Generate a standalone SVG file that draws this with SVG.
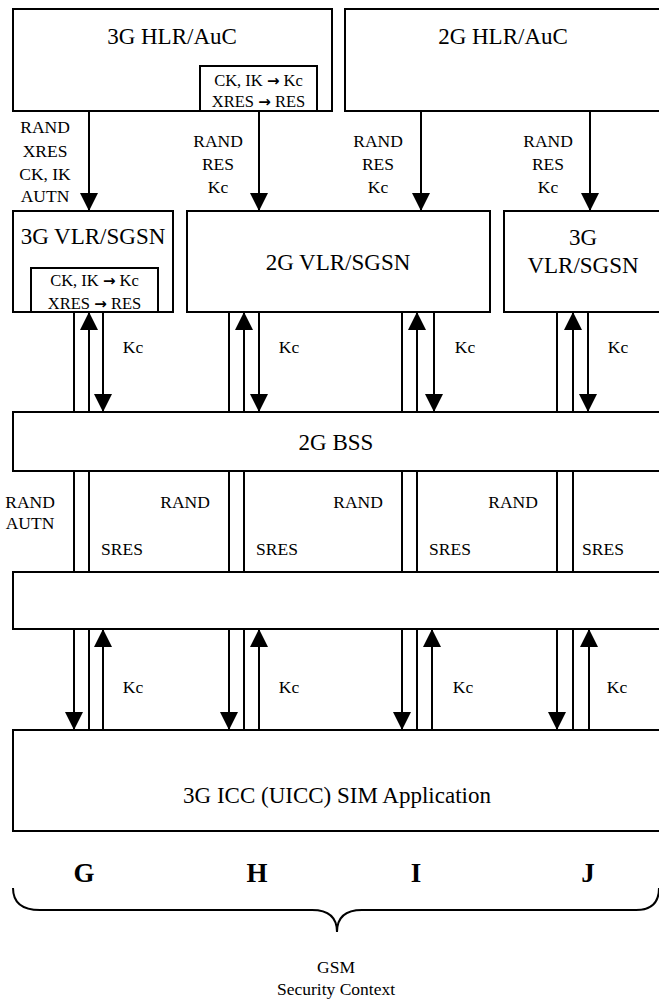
<svg xmlns="http://www.w3.org/2000/svg" width="659" height="999" viewBox="0 0 659 999">
<style>
rect{fill:#fff;stroke:#000;stroke-width:2}
line,path.c{stroke:#000;stroke-width:2;fill:none}
text{font-family:"Liberation Serif","Times New Roman",serif;fill:#000;text-anchor:middle}
.big{font-size:23px}
.sm{font-size:17.5px}
.in{font-size:16.5px}
.ar{font-family:"DejaVu Sans",sans-serif;font-weight:bold;font-size:15px}
.lt{font-size:27px;font-weight:bold}
</style>
<defs>
<marker id="ah" markerUnits="userSpaceOnUse" markerWidth="18" markerHeight="18" viewBox="0 0 18 18" refX="18" refY="9" orient="auto">
<path d="M0,0 L18,9 L0,18 z" fill="#000"/>
</marker>
</defs>
<rect x="0" y="0" width="659" height="999" style="fill:#fff;stroke:none"/>

<g id="hlr3g">
<rect x="13" y="9" width="319" height="102"/>
<text class="big" x="172" y="44">3G HLR/AuC</text>
<rect x="200" y="66" width="117" height="45"/>
<text class="in" x="258.5" y="86">CK, IK <tspan class="ar">→</tspan> Kc</text>
<text class="in" x="258.5" y="107">XRES <tspan class="ar">→</tspan> RES</text>
</g>
<g id="hlr2g">
<rect x="345" y="9" width="330" height="102"/>
<text class="big" x="503" y="44">2G HLR/AuC</text>
</g>
<g id="vlr3g-left">
<rect x="13" y="211" width="160" height="101"/>
<text class="big" x="93" y="244">3G VLR/SGSN</text>
<rect x="31" y="268" width="127" height="44"/>
<text class="in" x="94.5" y="286">CK, IK <tspan class="ar">→</tspan> Kc</text>
<text class="in" x="94.5" y="309">XRES <tspan class="ar">→</tspan> RES</text>
</g>
<g id="vlr2g">
<rect x="187" y="211" width="303" height="101"/>
<text class="big" x="338" y="270">2G VLR/SGSN</text>
</g>
<g id="vlr3g-right">
<rect x="504" y="211" width="180" height="101"/>
<text class="big" x="583" y="245">3G</text>
<text class="big" x="583" y="273">VLR/SGSN</text>
</g>
<g id="bss">
<rect x="13" y="412" width="670" height="59"/>
<text class="big" x="336" y="450">2G BSS</text>
</g>
<g id="blank">
<rect x="13" y="572" width="670" height="57"/>
</g>
<g id="sim">
<rect x="13" y="730" width="670" height="101"/>
<text class="big" x="337" y="803">3G ICC (UICC) SIM Application</text>
</g>

<g id="connectors">
<line x1="89" y1="111" x2="89" y2="211" marker-end="url(#ah)"/>
<line x1="259" y1="111" x2="259" y2="211" marker-end="url(#ah)"/>
<line x1="421" y1="111" x2="421" y2="211" marker-end="url(#ah)"/>
<line x1="590" y1="111" x2="590" y2="211" marker-end="url(#ah)"/>
<line x1="74" y1="312" x2="74" y2="412"/>
<line x1="89" y1="412" x2="89" y2="312" marker-end="url(#ah)"/>
<line x1="103" y1="312" x2="103" y2="412" marker-end="url(#ah)"/>
<line x1="229" y1="312" x2="229" y2="412"/>
<line x1="244" y1="412" x2="244" y2="312" marker-end="url(#ah)"/>
<line x1="259" y1="312" x2="259" y2="412" marker-end="url(#ah)"/>
<line x1="402" y1="312" x2="402" y2="412"/>
<line x1="417" y1="412" x2="417" y2="312" marker-end="url(#ah)"/>
<line x1="434" y1="312" x2="434" y2="412" marker-end="url(#ah)"/>
<line x1="557" y1="312" x2="557" y2="412"/>
<line x1="573" y1="412" x2="573" y2="312" marker-end="url(#ah)"/>
<line x1="588" y1="312" x2="588" y2="412" marker-end="url(#ah)"/>
<line x1="74" y1="471" x2="74" y2="572"/>
<line x1="89" y1="471" x2="89" y2="572"/>
<line x1="229" y1="471" x2="229" y2="572"/>
<line x1="244" y1="471" x2="244" y2="572"/>
<line x1="402" y1="471" x2="402" y2="572"/>
<line x1="417" y1="471" x2="417" y2="572"/>
<line x1="557" y1="471" x2="557" y2="572"/>
<line x1="573" y1="471" x2="573" y2="572"/>
<line x1="74" y1="629" x2="74" y2="730" marker-end="url(#ah)"/>
<line x1="89" y1="629" x2="89" y2="730"/>
<line x1="103" y1="730" x2="103" y2="629" marker-end="url(#ah)"/>
<line x1="229" y1="629" x2="229" y2="730" marker-end="url(#ah)"/>
<line x1="244" y1="629" x2="244" y2="730"/>
<line x1="259" y1="730" x2="259" y2="629" marker-end="url(#ah)"/>
<line x1="402" y1="629" x2="402" y2="730" marker-end="url(#ah)"/>
<line x1="417" y1="629" x2="417" y2="730"/>
<line x1="432" y1="730" x2="432" y2="629" marker-end="url(#ah)"/>
<line x1="557" y1="629" x2="557" y2="730" marker-end="url(#ah)"/>
<line x1="573" y1="629" x2="573" y2="730"/>
<line x1="589" y1="730" x2="589" y2="629" marker-end="url(#ah)"/>
</g>

<g id="labels">
<text class="sm" x="45" y="133">RAND</text>
<text class="sm" x="45" y="157">XRES</text>
<text class="sm" x="45" y="180">CK, IK</text>
<text class="sm" x="45" y="202">AUTN</text>
<text class="sm" x="218" y="147">RAND</text>
<text class="sm" x="218" y="170">RES</text>
<text class="sm" x="218" y="193">Kc</text>
<text class="sm" x="378" y="147">RAND</text>
<text class="sm" x="378" y="170">RES</text>
<text class="sm" x="378" y="193">Kc</text>
<text class="sm" x="548" y="147">RAND</text>
<text class="sm" x="548" y="170">RES</text>
<text class="sm" x="548" y="193">Kc</text>
<text class="sm" x="133" y="353">Kc</text>
<text class="sm" x="289" y="353">Kc</text>
<text class="sm" x="465" y="353">Kc</text>
<text class="sm" x="618" y="353">Kc</text>
<text class="sm" x="30" y="508">RAND</text>
<text class="sm" x="30" y="529">AUTN</text>
<text class="sm" x="185" y="508">RAND</text>
<text class="sm" x="358" y="508">RAND</text>
<text class="sm" x="513" y="508">RAND</text>
<text class="sm" x="122" y="555">SRES</text>
<text class="sm" x="277" y="555">SRES</text>
<text class="sm" x="450" y="555">SRES</text>
<text class="sm" x="603" y="555">SRES</text>
<text class="sm" x="133" y="693">Kc</text>
<text class="sm" x="289" y="693">Kc</text>
<text class="sm" x="463" y="693">Kc</text>
<text class="sm" x="617" y="693">Kc</text>
</g>

<g id="contexts">
<text class="lt" x="84" y="882">G</text>
<text class="lt" x="257" y="882">H</text>
<text class="lt" x="416" y="882">I</text>
<text class="lt" x="588" y="882">J</text>
<path class="c" d="M13,888 Q13,910 40,910 L312,910 Q337,910 337,932 Q337,910 362,910 L636,910 Q659,910 659,888"/>
<text class="sm" x="336" y="973">GSM</text>
<text class="sm" x="336" y="995">Security Context</text>
</g>
</svg>
